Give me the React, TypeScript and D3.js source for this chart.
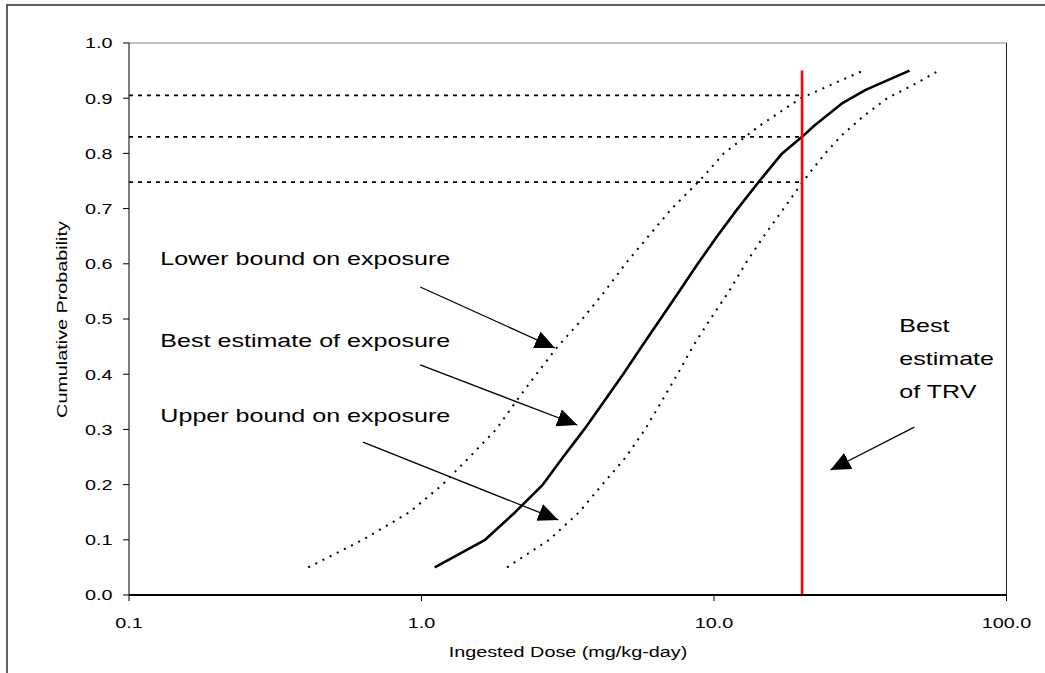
import React from "react";
import * as d3 from "d3";

// ---- data ----
const bestProb = [0.05, 0.10, 0.15, 0.20, 0.25, 0.30, 0.35, 0.40, 0.45, 0.50, 0.55, 0.60, 0.65, 0.70, 0.75, 0.80, 0.83, 0.85, 0.89, 0.915, 0.95];
const bestDose = [1.11, 1.65, 2.09, 2.6, 3.05, 3.6, 4.2, 4.89, 5.66, 6.56, 7.6, 8.8, 10.25, 12.05, 14.3, 17.1, 20, 22, 27.3, 33, 46.6];

const lowerProb = [0.05, 0.10, 0.15, 0.20, 0.25, 0.30, 0.35, 0.40, 0.45, 0.50, 0.55, 0.60, 0.65, 0.70, 0.75, 0.80, 0.85, 0.90, 0.95];
const lowerDose = [0.41, 0.63, 0.91, 1.18, 1.46, 1.80, 2.10, 2.47, 2.92, 3.55, 4.23, 4.98, 5.97, 7.17, 8.91, 10.8, 14.3, 19.8, 32.4];

const upperProb = [0.05, 0.10, 0.15, 0.20, 0.25, 0.30, 0.35, 0.40, 0.45, 0.50, 0.55, 0.60, 0.65, 0.70, 0.75, 0.80, 0.83, 0.866, 0.90, 0.924, 0.95];
const upperDose = [1.96, 2.73, 3.46, 4.15, 5.0, 5.81, 6.61, 7.5, 8.46, 9.72, 11.25, 12.8, 14.8, 17.3, 20.2, 24.0, 27, 32.2, 39.1, 48, 58.7];

const trvDose = 20;
const trvTop = 0.95;
const refProbs = [0.905, 0.83, 0.748];

const xTicks = [0.1, 1, 10, 100];
const xTickLabels = ["0.1", "1.0", "10.0", "100.0"];
const yTicks = [0, 0.1, 0.2, 0.3, 0.4, 0.5, 0.6, 0.7, 0.8, 0.9, 1.0];

const xTitle = "Ingested Dose (mg/kg-day)";
const yTitle = "Cumulative Probability";

// annotation labels (dose, prob of baseline start)
const labels = [
  { text: "Lower bound on exposure", dose: 0.128, prob: 0.598 },
  { text: "Best estimate of exposure", dose: 0.128, prob: 0.449 },
  { text: "Upper bound on exposure", dose: 0.128, prob: 0.313 },
];
const trvLabels = [
  { text: "Best", dose: 43.0, prob: 0.4764 },
  { text: "estimate", dose: 43.0, prob: 0.4167 },
  { text: "of TRV", dose: 43.0, prob: 0.3569 },
];
// arrows: from (dose, prob) to (dose, prob)
const arrows = [
  { x0: 0.99, y0: 0.558, x1: 2.86, y1: 0.4475 },
  { x0: 0.99, y0: 0.4167, x1: 3.41, y1: 0.308 },
  { x0: 0.631, y0: 0.277, x1: 2.935, y1: 0.136 },
  { x0: 48.4, y0: 0.304, x1: 25.0, y1: 0.2264 },
];

// ---- layout ----
const W = 1045;
const H = 673;
const PL = 129;
const PR = 1006.5;
const PT = 43;
const PB = 595;
const SX = 1.32;
const FONT = "'Liberation Sans', Arial, sans-serif";

function SText({ x, y, rot = 0, anchor = "start", size, children }: any) {
  return (
    <text
      transform={`translate(${x},${y}) rotate(${rot}) scale(${SX},1)`}
      textAnchor={anchor}
      fontSize={size}
      fontFamily={FONT}
      fill="#000"
    >
      {children}
    </text>
  );
}

export default function App() {
  const x = d3.scaleLog().domain([0.1, 100]).range([PL, PR]);
  const y = d3.scaleLinear().domain([0, 1]).range([PB, PT]);
  const line = d3
    .line<[number, number]>()
    .x((d) => x(d[0]))
    .y((d) => y(d[1]));

  const best = bestDose.map((d, i) => [d, bestProb[i]] as [number, number]);
  const lower = lowerDose.map((d, i) => [d, lowerProb[i]] as [number, number]);
  const upper = upperDose.map((d, i) => [d, upperProb[i]] as [number, number]);

  return (
    <svg
      width={W}
      height={H}
      style={{ position: "absolute", left: 0, top: 0, background: "#fff" }}
    >
      <defs>
        <marker
          id="ah"
          markerUnits="userSpaceOnUse"
          markerWidth={20}
          markerHeight={18}
          refX={20}
          refY={9}
          orient="auto"
        >
          <path d="M0,0 L20,9 L0,18 Z" fill="#000" />
        </marker>
      </defs>
      <rect x={0} y={0} width={W} height={H} fill="#fff" />
      {/* outer chart border (extends beyond view) */}
      <rect x={7} y={5} width={1200} height={800} fill="none" stroke="#3a3a3a" strokeWidth={1.6} />

      {/* plot area border */}
      <line x1={PL} x2={PR} y1={PT} y2={PT} stroke="#808080" strokeWidth={1.2} />
      <line x1={PR} x2={PR} y1={PT} y2={PB} stroke="#202020" strokeWidth={1} />

      {/* reference dashed lines */}
      {refProbs.map((p, i) => (
        <line
          key={"r" + i}
          x1={x(0.1)}
          x2={x(trvDose)}
          y1={y(p)}
          y2={y(p)}
          stroke="#000"
          strokeWidth={1.8}
          strokeDasharray="4,5"
        />
      ))}

      {/* curves */}
      <path d={line(lower) || ""} fill="none" stroke="#000" strokeWidth={2} strokeDasharray="2,6" />
      <path d={line(upper) || ""} fill="none" stroke="#000" strokeWidth={2} strokeDasharray="2,6" />
      <path d={line(best) || ""} fill="none" stroke="#000" strokeWidth={2.6} strokeLinejoin="round" />

      {/* TRV line */}
      <line
        x1={x(trvDose)}
        x2={x(trvDose)}
        y1={y(0)}
        y2={y(trvTop)}
        stroke="#ff0000"
        strokeWidth={2.6}
      />

      {/* axes */}
      <line x1={PL} x2={PL} y1={PT} y2={PB} stroke="#000" strokeWidth={1} />
      <line x1={PL} x2={PR} y1={PB} y2={PB} stroke="#000" strokeWidth={2.2} />
      {yTicks.map((t, i) => (
        <g key={"yt" + i}>
          <line x1={PL - 6} x2={PL} y1={y(t)} y2={y(t)} stroke="#000" strokeWidth={1} />
          <SText x={112.5} y={y(t) + 5.3} anchor="end" size={15}>
            {d3.format(".1f")(t)}
          </SText>
        </g>
      ))}
      {xTicks.map((t, i) => (
        <g key={"xt" + i}>
          <line x1={x(t)} x2={x(t)} y1={PB} y2={PB + 6} stroke="#000" strokeWidth={1} />
          <SText x={x(t)} y={628} anchor="middle" size={15}>
            {xTickLabels[i]}
          </SText>
        </g>
      ))}
      <SText x={568} y={657} anchor="middle" size={15}>
        {xTitle}
      </SText>
      <SText x={67} y={319.5} rot={-90} anchor="middle" size={15}>
        {yTitle}
      </SText>

      {/* annotations */}
      {labels.map((l, i) => (
        <SText key={"l" + i} x={x(l.dose)} y={y(l.prob)} size={19}>
          {l.text}
        </SText>
      ))}
      {trvLabels.map((l, i) => (
        <SText key={"t" + i} x={x(l.dose)} y={y(l.prob)} size={19}>
          {l.text}
        </SText>
      ))}
      {arrows.map((a, i) => (
        <line
          key={"a" + i}
          x1={x(a.x0)}
          y1={y(a.y0)}
          x2={x(a.x1)}
          y2={y(a.y1)}
          stroke="#000"
          strokeWidth={1.3}
          markerEnd="url(#ah)"
        />
      ))}
    </svg>
  );
}
